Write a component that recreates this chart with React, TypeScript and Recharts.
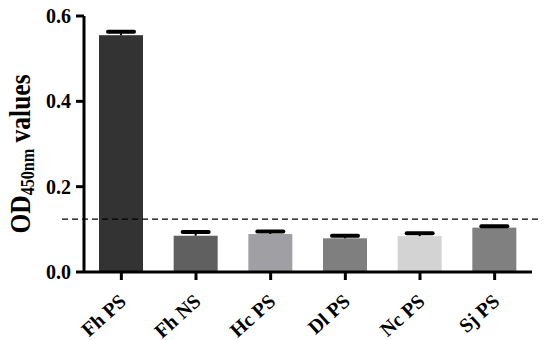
import { Bar, BarChart, Cell, ReferenceLine, XAxis, YAxis } from "recharts";

// OD450nm 値の棒グラフ（上側エラーバー + 閾値の破線）

const groups = ["Fh PS", "Fh NS", "Hc PS", "Dl PS", "Nc PS", "Sj PS"];
const odValues = [0.555, 0.085, 0.089, 0.079, 0.084, 0.104];
const odErrors = [0.008, 0.009, 0.006, 0.006, 0.007, 0.003];
const barColors = ["#333333", "#606060", "#a0a0a4", "#7f7f7f", "#d3d3d3", "#808080"];
const yTicks = [0, 0.2, 0.4, 0.6];
const cutoff = 0.124;

const data = groups.map((g, i) => ({ name: g, value: odValues[i], err: odErrors[i] }));

const FONT = "'Liberation Serif', 'Times New Roman', serif";

// 棒 + 上側だけのエラーバー（スケールは棒の高さ/値から換算）
function BarWithError(props: any) {
  const { x, y, width, height, fill, payload } = props;
  const pxPerUnit = height / payload.value;
  const top = y - payload.err * pxPerUnit;
  const cx = x + width / 2;
  return (
    <g>
      <rect x={x} y={y} width={width} height={height} fill={fill} />
      <line x1={cx} y1={y} x2={cx} y2={top} stroke="#000" strokeWidth={2} />
      <line x1={cx - 13} y1={top} x2={cx + 13} y2={top} stroke="#000" strokeWidth={4} strokeLinecap="round" />
    </g>
  );
}

function XTick({ x, y, payload }: any) {
  const ax = x + 6;
  const ay = y + 21;
  return (
    <text
      x={ax}
      y={ay}
      transform={`rotate(-42 ${ax} ${ay})`}
      textAnchor="end"
      fontFamily={FONT}
      fontWeight="bold"
      fontSize={20}
      fill="#000"
    >
      {payload.value}
    </text>
  );
}

// 縦書きラベル：元画像は縦方向に少し潰れているので文字方向に縮める
function YLabel() {
  const cx = 30;
  const cy = 154;
  return (
    <text
      transform={`translate(${cx} ${cy}) rotate(-90) scale(0.85 1)`}
      x={0}
      y={0}
      textAnchor="middle"
      fontFamily={FONT}
      fontWeight="bold"
      fontSize={30}
      fill="#000"
    >
      OD
      <tspan fontSize={19} dy={4}>450nm</tspan>
      <tspan dy={-4}> values</tspan>
    </text>
  );
}

function CutoffLine(props: any) {
  const { x1, x2, y1 } = props;
  return (
    <line x1={x1 - 22} x2={x2 + 10} y1={y1} y2={y1} stroke="#000" strokeWidth={1.2} strokeDasharray="6 4" />
  );
}

export default function App() {
  return (
    <div style={{ position: "absolute", left: 0, top: 0, background: "#fff" }}>
      <BarChart width={550} height={340} data={data} margin={{ top: 16, right: 18, bottom: 0, left: 0 }}>
        <XAxis
          dataKey="name"
          height={68}
          tick={<XTick />}
          interval={0}
          tickSize={8}
          tickLine={{ stroke: "#000", strokeWidth: 3 }}
          axisLine={{ stroke: "#000", strokeWidth: 3 }}
        />
        <YAxis
          width={84}
          domain={[0, 0.6]}
          ticks={yTicks}
          tickFormatter={(v: number) => v.toFixed(1)}
          tickSize={8}
          tickMargin={5}
          tickLine={{ stroke: "#000", strokeWidth: 3 }}
          axisLine={{ stroke: "#000", strokeWidth: 3 }}
          tick={{ fontFamily: FONT, fontWeight: "bold", fontSize: 20, fill: "#000" }}
          label={<YLabel />}
        />
        <Bar dataKey="value" barSize={44} shape={<BarWithError />} isAnimationActive={false}>
          {data.map((d, i) => (
            <Cell key={d.name} fill={barColors[i]} />
          ))}
        </Bar>
        <ReferenceLine y={cutoff} shape={<CutoffLine />} ifOverflow="visible" />
      </BarChart>
    </div>
  );
}
